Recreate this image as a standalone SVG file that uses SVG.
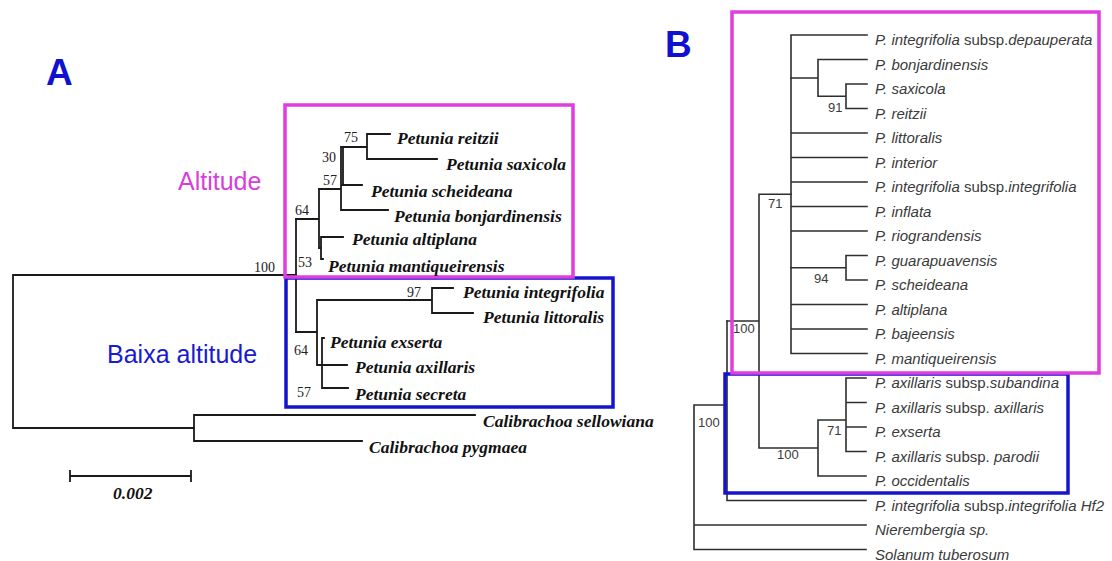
<svg xmlns="http://www.w3.org/2000/svg" width="1112" height="561" viewBox="0 0 1112 561">
<style>
.bg{fill:#ffffff}
.ta{font-family:"Liberation Serif","Times New Roman",serif;font-weight:bold;font-style:italic;font-size:17.5px;fill:#111}
.na{font-family:"Liberation Serif","Times New Roman",serif;font-size:14px;fill:#222}
.tb{font-family:"Liberation Sans",Arial,sans-serif;font-style:italic;font-size:15px;fill:#3a3a3a}
.tb .r{font-style:normal}
.nb{font-family:"Liberation Sans",Arial,sans-serif;font-size:13px;fill:#3a3a3a}
.br{fill:none;stroke:#1a1a1a;stroke-width:1.8;stroke-linecap:square}
.brb{fill:none;stroke:#2e2e2e;stroke-width:1.6;stroke-linecap:square}
.mag{fill:none;stroke:#e03ce0;stroke-width:3.5}
.blu{fill:none;stroke:#1414cc;stroke-width:3.5}
.lab{font-family:"Liberation Sans",Arial,sans-serif;font-weight:bold;font-size:37px;fill:#1010d0}
.grp{font-family:"Liberation Sans",Arial,sans-serif;font-size:25px}
</style>
<rect class="bg" x="0" y="0" width="1112" height="561"/>

<!-- Panel labels -->
<g id="label-A"><text class="lab" x="46" y="85">A</text></g>
<g id="label-B"><text class="lab" x="665" y="57">B</text></g>
<g id="group-altitude"><text class="grp" x="178" y="190" fill="#d83ed8">Altitude</text></g>
<g id="group-baixa"><text class="grp" x="107" y="363" fill="#1a1ad0">Baixa altitude</text></g>

<!-- Connectors: panel A -->
<g id="connectors-A">
<path class="br" d="M296 275H13V428H194"/>
<path class="br" d="M296 219V332"/>
<path class="br" d="M296 219H319M319 189V248H321M321 237V259M321 237H343M321 259H323"/>
<path class="br" d="M319 189H341M341 147V210M343 147V185M341 147H367M367 134V159M367 134H390M367 159H437M341 185H362M341 210H388"/>
<path class="br" d="M296 332H317M317 300V365M317 300H432M432 288V313M432 288H453M432 313H473M317 365H347M322 338V388M322 338H324M322 388H348"/>
<path class="br" d="M194 415V441M194 415H475M194 441H362"/>
<path class="br" d="M70 476H191M70 471V481M191 471V481"/>
</g>

<!-- Connectors: panel B -->
<g id="connectors-B">
<path class="brb" d="M791 35V353.5M791 35H867M791 133H867M791 157.5H867M791 182H867M791 206.5H867M791 231H867M791 304.5H867M791 329H867M791 353.5H867"/>
<path class="brb" d="M791 78H818M818 59.5V96.25M818 59.5H867M818 96.25H846M846 84V108.5M846 84H867M846 108.5H867"/>
<path class="brb" d="M791 267.75H846M846 255.5V280M846 255.5H867M846 280H867"/>
<path class="brb" d="M759 194.25H791M759 194.25V448M727 321H759M759 448H818M818 420V476M818 476H866M818 420H846M846 378V451.5M846 378H866M846 402.5H866M846 427H866M846 451.5H866"/>
<path class="brb" d="M727 321V500.5M727 500.5H866M694 405H727M694 405V549.5M694 525H866M694 549.5H866"/>
</g>

<!-- Group boxes -->
<rect id="box-A-baixa" class="blu" x="286" y="278" width="327" height="129"/>
<rect id="box-A-altitude" class="mag" x="285" y="105" width="288" height="172"/>
<rect id="box-B-baixa" class="blu" x="725" y="374" width="343" height="119"/>
<rect id="box-B-altitude" class="mag" x="732" y="12" width="367" height="361"/>

<!-- Panel A taxa -->
<g id="A-reitzii"><text class="ta" x="397" y="144">Petunia reitzii</text></g>
<g id="A-saxicola"><text class="ta" x="446" y="170">Petunia saxicola</text></g>
<g id="A-scheideana"><text class="ta" x="371" y="197">Petunia scheideana</text></g>
<g id="A-bonjardinensis"><text class="ta" x="394" y="222">Petunia bonjardinensis</text></g>
<g id="A-altiplana"><text class="ta" x="352" y="245">Petunia altiplana</text></g>
<g id="A-mantiqueirensis"><text class="ta" x="328" y="272">Petunia mantiqueirensis</text></g>
<g id="A-integrifolia"><text class="ta" x="463" y="298">Petunia integrifolia</text></g>
<g id="A-littoralis"><text class="ta" x="483" y="323">Petunia littoralis</text></g>
<g id="A-exserta"><text class="ta" x="330" y="348">Petunia exserta</text></g>
<g id="A-axillaris"><text class="ta" x="355" y="373">Petunia axillaris</text></g>
<g id="A-secreta"><text class="ta" x="355" y="400">Petunia secreta</text></g>
<g id="A-sellowiana"><text class="ta" x="483" y="427">Calibrachoa sellowiana</text></g>
<g id="A-pygmaea"><text class="ta" x="369" y="453">Calibrachoa pygmaea</text></g>
<g id="A-scale"><text class="ta" x="113" y="499">0.002</text></g>

<!-- Panel A supports -->
<g id="A-supports">
<text class="na" x="344" y="142">75</text>
<text class="na" x="322" y="162">30</text>
<text class="na" x="323" y="185">57</text>
<text class="na" x="295" y="215">64</text>
<text class="na" x="298" y="267">53</text>
<text class="na" x="254" y="272">100</text>
<text class="na" x="407" y="297">97</text>
<text class="na" x="294" y="355">64</text>
<text class="na" x="297" y="397">57</text>
</g>

<!-- Panel B taxa -->
<g id="B-depauperata"><text class="tb" x="875" y="45">P. integrifolia<tspan class="r"> subsp.</tspan>depauperata</text></g>
<g id="B-bonjardinensis"><text class="tb" x="875" y="69.5">P. bonjardinensis</text></g>
<g id="B-saxicola"><text class="tb" x="875" y="94">P. saxicola</text></g>
<g id="B-reitzii"><text class="tb" x="875" y="118.5">P. reitzii</text></g>
<g id="B-littoralis"><text class="tb" x="875" y="143">P. littoralis</text></g>
<g id="B-interior"><text class="tb" x="875" y="167.5">P. interior</text></g>
<g id="B-integrifolia"><text class="tb" x="875" y="192">P. integrifolia<tspan class="r"> subsp.</tspan>integrifolia</text></g>
<g id="B-inflata"><text class="tb" x="875" y="216.5">P. inflata</text></g>
<g id="B-riograndensis"><text class="tb" x="875" y="241">P. riograndensis</text></g>
<g id="B-guarapuavensis"><text class="tb" x="875" y="265.5">P. guarapuavensis</text></g>
<g id="B-scheideana"><text class="tb" x="875" y="290">P. scheideana</text></g>
<g id="B-altiplana"><text class="tb" x="875" y="314.5">P. altiplana</text></g>
<g id="B-bajeensis"><text class="tb" x="875" y="339">P. bajeensis</text></g>
<g id="B-mantiqueirensis"><text class="tb" x="875" y="363.5">P. mantiqueirensis</text></g>
<g id="B-subandina"><text class="tb" x="875" y="388">P. axillaris<tspan class="r"> subsp.</tspan>subandina</text></g>
<g id="B-axillaris"><text class="tb" x="875" y="412.5">P. axillaris<tspan class="r"> subsp. </tspan>axillaris</text></g>
<g id="B-exserta"><text class="tb" x="875" y="437">P. exserta</text></g>
<g id="B-parodii"><text class="tb" x="875" y="461.5">P. axillaris<tspan class="r"> subsp. </tspan>parodii</text></g>
<g id="B-occidentalis"><text class="tb" x="875" y="486">P. occidentalis</text></g>
<g id="B-hf2"><text class="tb" x="875" y="510.5">P. integrifolia<tspan class="r"> subsp.</tspan>integrifolia Hf2</text></g>
<g id="B-nierembergia"><text class="tb" x="875" y="535">Nierembergia sp.</text></g>
<g id="B-solanum"><text class="tb" x="875" y="559.5">Solanum tuberosum</text></g>

<!-- Panel B supports -->
<g id="B-supports">
<text class="nb" x="828" y="112">91</text>
<text class="nb" x="768" y="208">71</text>
<text class="nb" x="814" y="283">94</text>
<text class="nb" x="733" y="333">100</text>
<text class="nb" x="698" y="427">100</text>
<text class="nb" x="827" y="435">71</text>
<text class="nb" x="777" y="459">100</text>
</g>
</svg>
